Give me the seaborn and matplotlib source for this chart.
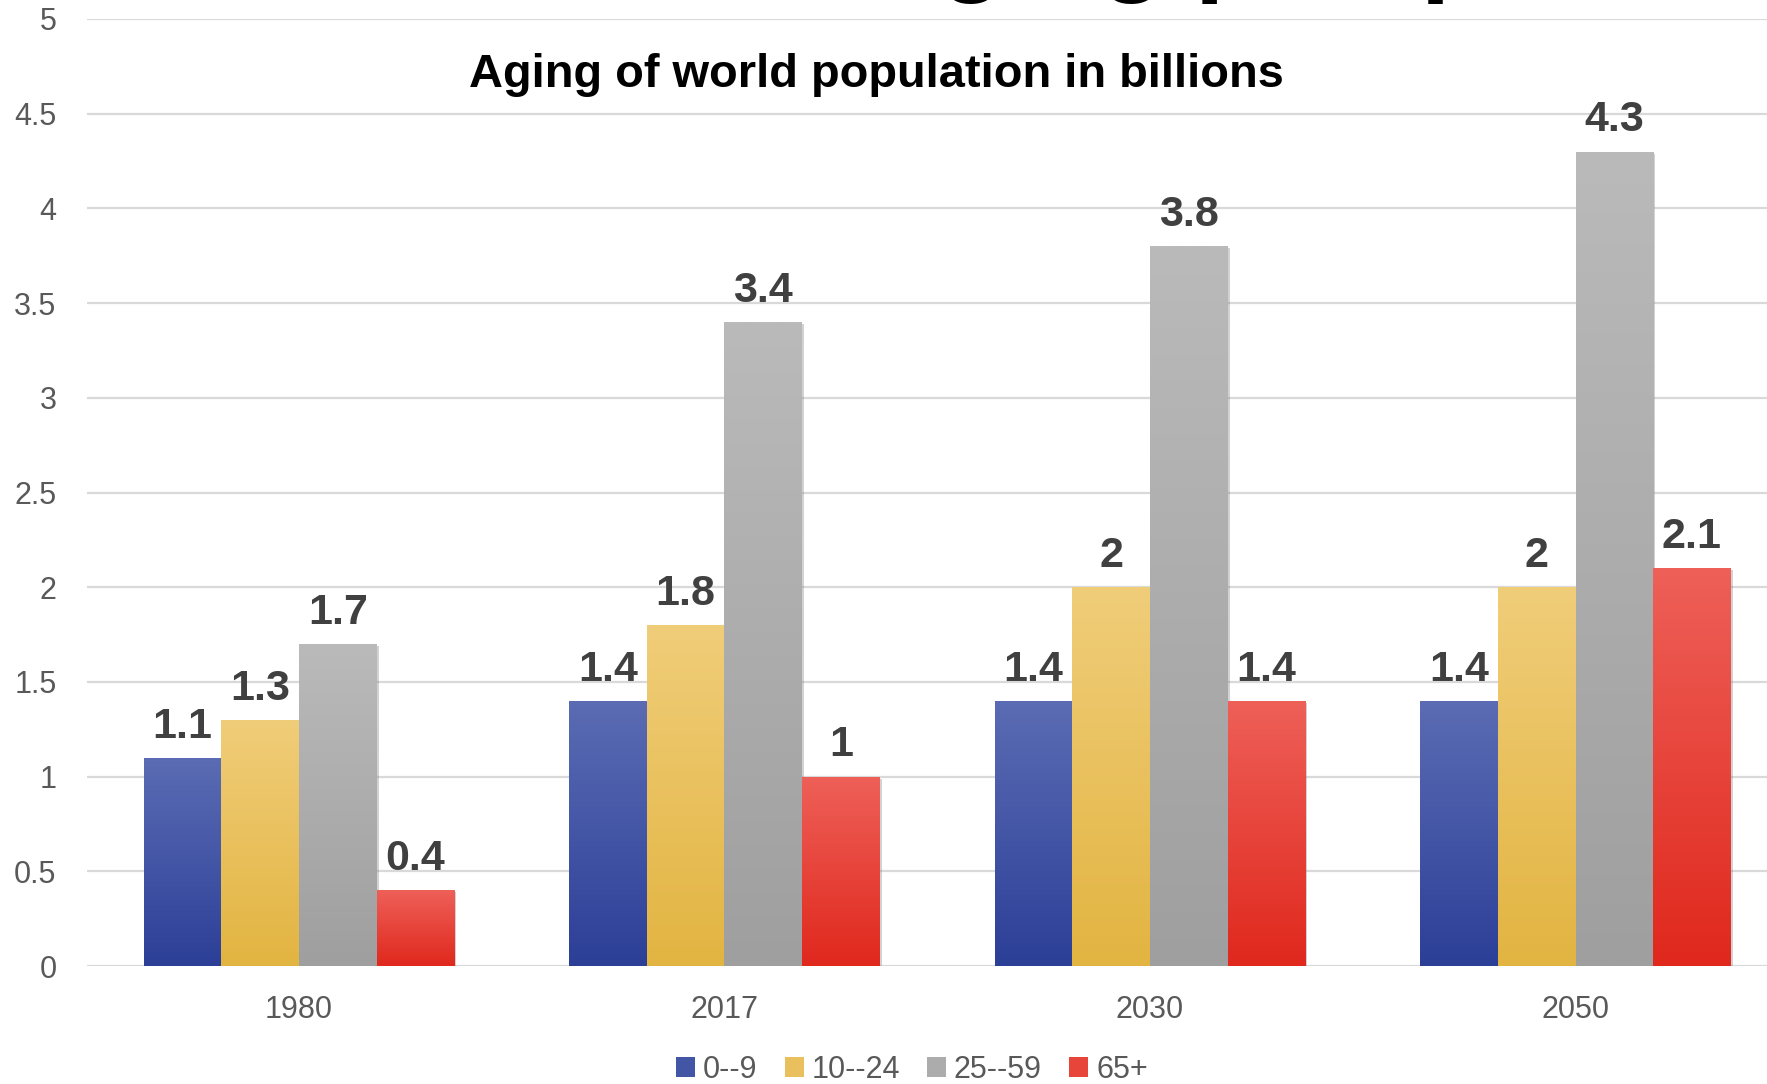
import numpy as np
import pandas as pd
import seaborn as sns
import matplotlib.pyplot as plt
import matplotlib.patheffects as pe
from matplotlib.colors import to_rgb
from matplotlib.patches import Patch

# values (billions)
years = ['1980', '2017', '2030', '2050']
groups = ['0--9', '10--24', '25--59', '65+']
age_0_9 = [1.1, 1.4, 1.4, 1.4]
age_10_24 = [1.3, 1.8, 2.0, 2.0]
age_25_59 = [1.7, 3.4, 3.8, 4.3]
age_65 = [0.4, 1.0, 1.4, 2.1]

df = pd.DataFrame({
    'year': years * 4,
    'group': np.repeat(groups, len(years)),
    'value': age_0_9 + age_10_24 + age_25_59 + age_65,
})

# (top, bottom) gradient colours for each series
grad = {
    '0--9': ('#5b6cb4', '#2c3f97'),
    '10--24': ('#f0cd79', '#e2b441'),
    '25--59': ('#bababa', '#9f9f9f'),
    '65+': ('#ee6058', '#e0281d'),
}
mid = {k: '#%02x%02x%02x' % tuple(int(255 * (a + b) / 2) for a, b in zip(to_rgb(t), to_rgb(bt)))
       for k, (t, bt) in grad.items()}

sns.set_theme(style='white')
plt.rcParams['font.family'] = ['Liberation Sans', 'DejaVu Sans']

W, H = 1767, 1084
fig = plt.figure(figsize=(W / 100, H / 100), dpi=100)
ax = fig.add_axes([87 / W, 1 - 966 / H, (W - 87) / W, (966 - 19) / H])

sns.barplot(data=df, x='year', y='value', hue='group', hue_order=groups,
            palette=mid, width=0.73, gap=0, linewidth=0, ax=ax, legend=False)

# vertical gradient on each bar, clipped to the bar, with a soft shadow
shadow = [pe.SimplePatchShadow(offset=(1.5, -1.5), shadow_rgbFace='#808080', alpha=0.35),
          pe.Normal()]
for grp, cont in zip(groups, ax.containers):
    top, bot = np.array(to_rgb(grad[grp][0])), np.array(to_rgb(grad[grp][1]))
    t = np.linspace(0, 1, 200)[:, None, None]
    img = bot * (1 - t) + top * t
    for bar in cont:
        bar.set_path_effects(shadow)
        x0, w, h = bar.get_x(), bar.get_width(), bar.get_height()
        im = ax.imshow(img, extent=[x0, x0 + w, 0, h], origin='lower',
                       aspect='auto', zorder=2, interpolation='bilinear')
        im.set_clip_path(bar)
    ax.bar_label(cont, fmt='{:g}', padding=8, fontsize=31, fontweight='bold',
                 color='#404040', zorder=4)

ax.set_xlim(-0.498, 3.45)
ax.set_ylim(0, 5)
ax.set_yticks(np.arange(0, 5.01, 0.5))
ax.set_yticklabels(['%g' % v for v in np.arange(0, 5.01, 0.5)])
ax.grid(axis='y', color='#d9d9d9', linewidth=1.6)
ax.set_axisbelow(True)
for s in ax.spines.values():
    s.set_visible(False)
ax.tick_params(axis='y', length=0, pad=22, labelsize=22, labelcolor='#595959')
ax.tick_params(axis='x', length=0, pad=21, labelsize=22, labelcolor='#595959')
ax.set_xlabel('')
ax.set_ylabel('')

fig.text(876 / W, 1 - 75 / H, 'Aging of world population in billions',
         ha='center', va='center', fontsize=33.8, fontweight='bold', color='black')
# large heading cut off at the top of the picture
fig.text(862 / W, 1 + 18 / H, 'Aging perspectives', ha='left', va='baseline',
         fontsize=77, fontweight='bold', color='black')

handles = [Patch(facecolor=mid[g], edgecolor='none') for g in groups]
fig.legend(handles, groups, loc='center', bbox_to_anchor=(912 / W, 1 - 1070 / H),
           ncol=4, frameon=False, fontsize=22, labelcolor='#595959',
           handlelength=0.62, handleheight=0.62, handletextpad=0.25,
           columnspacing=0.9, borderpad=0)

fig.savefig('out.png', dpi=100)
